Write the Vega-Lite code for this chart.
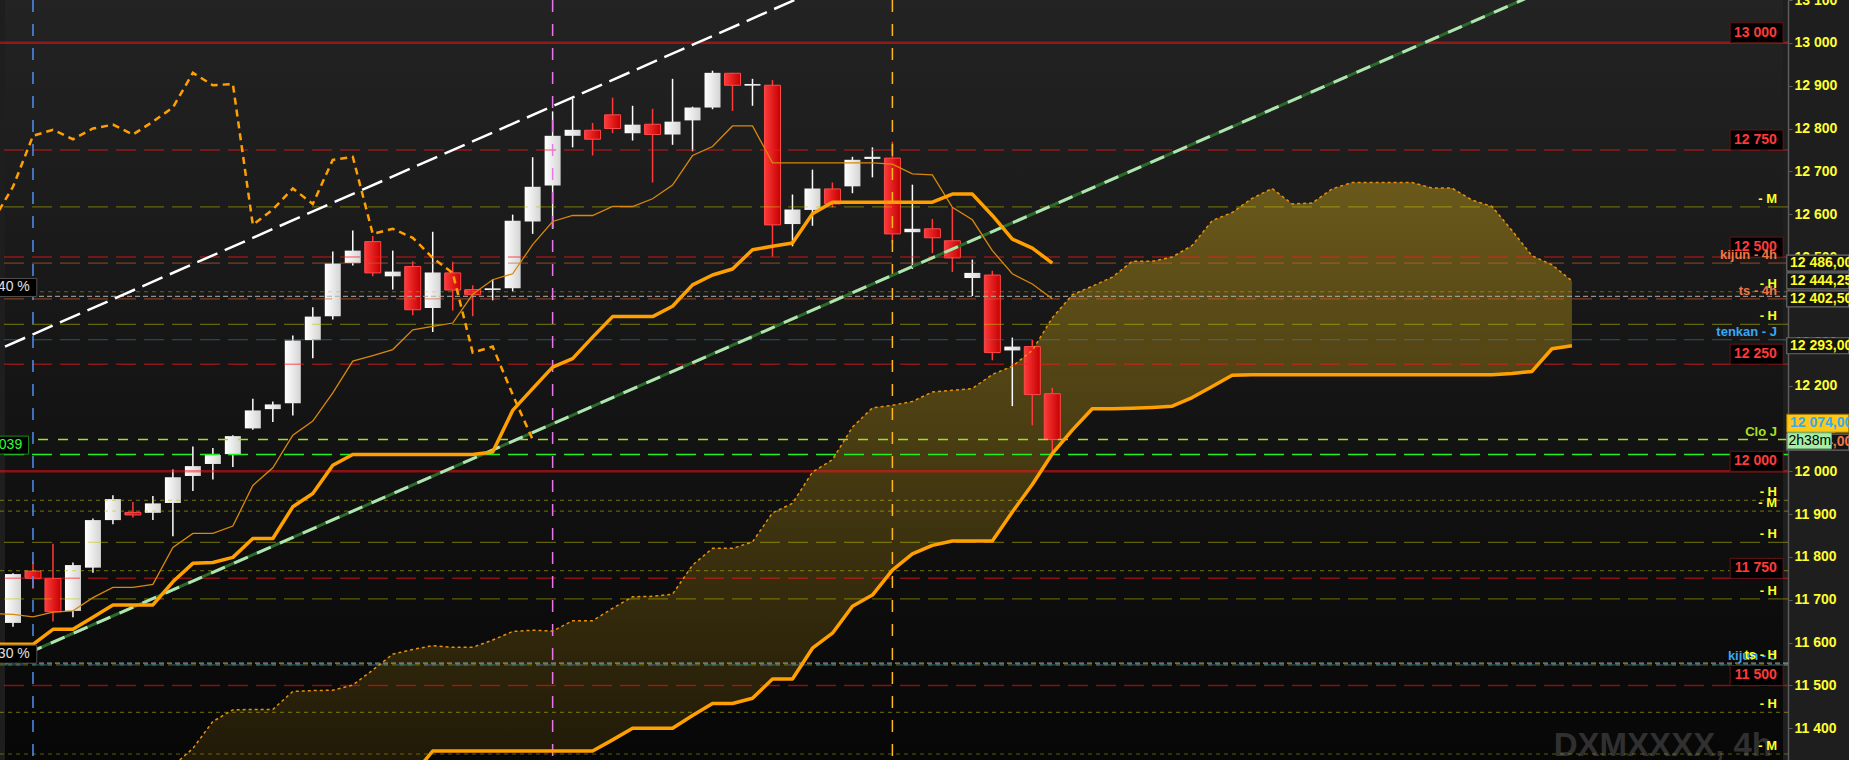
{
  "$schema": "https://vega.github.io/schema/vega-lite/v6.json",
  "width": 1788,
  "height": 760,
  "autosize": {"type": "none"},
  "padding": {"left": 0, "top": 0, "right": 61, "bottom": 0},
  "background": "#1e1e1e",
  "config": {
    "view": {"stroke": null},
    "locale": {"number": {"decimal": ",", "thousands": " ", "grouping": [3], "currency": ["", ""]}},
    "text": {"font": "Liberation Sans"}
  },
  "datasets": {
    "candles": [
      {"i":-1,"t":11668,"k":11596},
      {"i":0,"o":11646,"h":11762,"l":11637,"c":11760,"t":11666,"k":11596},
      {"i":1,"o":11767,"h":11789,"l":11726,"c":11750,"t":11660,"k":11596},
      {"i":2,"o":11750,"h":11831,"l":11649,"c":11672,"t":11671,"k":11631},
      {"i":3,"o":11674,"h":11787,"l":11659,"c":11781,"t":11674,"k":11631},
      {"i":4,"o":11775,"h":11890,"l":11763,"c":11886,"t":11705,"k":11659},
      {"i":5,"o":11886,"h":11944,"l":11876,"c":11935,"t":11729,"k":11688},
      {"i":6,"o":11904,"h":11928,"l":11892,"c":11898,"t":11729,"k":11688},
      {"i":7,"o":11903,"h":11942,"l":11886,"c":11925,"t":11736,"k":11688},
      {"i":8,"o":11926,"h":12004,"l":11848,"c":11986,"t":11822,"k":11742},
      {"i":9,"o":11989,"h":12058,"l":11954,"c":12012,"t":11855,"k":11785},
      {"i":10,"o":12017,"h":12054,"l":11981,"c":12038,"t":11855,"k":11787},
      {"i":11,"o":12040,"h":12084,"l":12010,"c":12082,"t":11872,"k":11799},
      {"i":12,"o":12100,"h":12169,"l":12097,"c":12142,"t":11967,"k":11843},
      {"i":13,"o":12145,"h":12163,"l":12115,"c":12156,"t":12008,"k":11843},
      {"i":14,"o":12159,"h":12317,"l":12130,"c":12305,"t":12084,"k":11917},
      {"i":15,"o":12306,"h":12383,"l":12264,"c":12361,"t":12117,"k":11948},
      {"i":16,"o":12362,"h":12513,"l":12354,"c":12485,"t":12183,"k":12014},
      {"i":17,"o":12486,"h":12562,"l":12480,"c":12515,"t":12257,"k":12039},
      {"i":18,"o":12536,"h":12549,"l":12455,"c":12463,"t":12270,"k":12039},
      {"i":19,"o":12455,"h":12515,"l":12424,"c":12466,"t":12284,"k":12039},
      {"i":20,"o":12478,"h":12490,"l":12364,"c":12377,"t":12330,"k":12039},
      {"i":21,"o":12381,"h":12559,"l":12325,"c":12464,"t":12338,"k":12039},
      {"i":22,"o":12463,"h":12489,"l":12375,"c":12423,"t":12346,"k":12039},
      {"i":23,"o":12424,"h":12434,"l":12362,"c":12412,"t":12413,"k":12039},
      {"i":24,"o":12423,"h":12448,"l":12399,"c":12427,"t":12447,"k":12045},
      {"i":25,"o":12427,"h":12599,"l":12420,"c":12585,"t":12461,"k":12142},
      {"i":26,"o":12583,"h":12733,"l":12554,"c":12664,"t":12529,"k":12193},
      {"i":27,"o":12667,"h":12840,"l":12566,"c":12783,"t":12583,"k":12243},
      {"i":28,"o":12783,"h":12869,"l":12756,"c":12797,"t":12597,"k":12263},
      {"i":29,"o":12796,"h":12813,"l":12737,"c":12775,"t":12597,"k":12313},
      {"i":30,"o":12832,"h":12872,"l":12789,"c":12800,"t":12618,"k":12361},
      {"i":31,"o":12789,"h":12853,"l":12772,"c":12809,"t":12618,"k":12361},
      {"i":32,"o":12810,"h":12846,"l":12674,"c":12786,"t":12636,"k":12361},
      {"i":33,"o":12786,"h":12916,"l":12762,"c":12816,"t":12668,"k":12385},
      {"i":34,"o":12819,"h":12851,"l":12747,"c":12849,"t":12737,"k":12435},
      {"i":35,"o":12849,"h":12935,"l":12845,"c":12930,"t":12758,"k":12458},
      {"i":36,"o":12929,"h":12930,"l":12841,"c":12901,"t":12806,"k":12472},
      {"i":37,"o":12900,"h":12916,"l":12853,"c":12904,"t":12806,"k":12517},
      {"i":38,"o":12901,"h":12913,"l":12501,"c":12575,"t":12720,"k":12525},
      {"i":39,"o":12577,"h":12646,"l":12525,"c":12611,"t":12720,"k":12533},
      {"i":40,"o":12610,"h":12704,"l":12573,"c":12660,"t":12720,"k":12601},
      {"i":41,"o":12659,"h":12674,"l":12616,"c":12624,"t":12720,"k":12628},
      {"i":42,"o":12665,"h":12734,"l":12649,"c":12727,"t":12720,"k":12628},
      {"i":43,"o":12729,"h":12756,"l":12686,"c":12734,"t":12720,"k":12628},
      {"i":44,"o":12731,"h":12769,"l":12532,"c":12554,"t":12717,"k":12628},
      {"i":45,"o":12558,"h":12669,"l":12472,"c":12566,"t":12694,"k":12628},
      {"i":46,"o":12566,"h":12589,"l":12509,"c":12545,"t":12692,"k":12628},
      {"i":47,"o":12538,"h":12616,"l":12465,"c":12498,"t":12616,"k":12647},
      {"i":48,"o":12451,"h":12494,"l":12409,"c":12463,"t":12587,"k":12647},
      {"i":49,"o":12458,"h":12468,"l":12259,"c":12277,"t":12515,"k":12597},
      {"i":50,"o":12282,"h":12312,"l":12152,"c":12291,"t":12461,"k":12542},
      {"i":51,"o":12291,"h":12307,"l":12107,"c":12179,"t":12437,"k":12521},
      {"i":52,"o":12181,"h":12195,"l":12045,"c":12074,"t":12402.5,"k":12486}
    ],
    "chikou": [
      {"i":-1,"v":12585},{"i":0,"v":12664},{"i":1,"v":12783},{"i":2,"v":12797},{"i":3,"v":12775},
      {"i":4,"v":12800},{"i":5,"v":12809},{"i":6,"v":12786},{"i":7,"v":12816},{"i":8,"v":12849},
      {"i":9,"v":12930},{"i":10,"v":12901},{"i":11,"v":12904},{"i":12,"v":12575},{"i":13,"v":12611},
      {"i":14,"v":12660},{"i":15,"v":12624},{"i":16,"v":12727},{"i":17,"v":12734},{"i":18,"v":12554},
      {"i":19,"v":12566},{"i":20,"v":12545},{"i":21,"v":12498},{"i":22,"v":12463},{"i":23,"v":12277},
      {"i":24,"v":12291},{"i":25,"v":12179},{"i":26,"v":12074}
    ],
    "cloud": [
      {"i":7,"a":11270,"b":11250},{"i":8,"a":11312,"b":11250},{"i":9,"a":11353,"b":11250},
      {"i":10,"a":11416,"b":11250},{"i":11,"a":11443,"b":11250},{"i":12,"a":11444,"b":11250},
      {"i":13,"a":11444,"b":11250},{"i":14,"a":11486,"b":11250},{"i":15,"a":11488,"b":11250},
      {"i":16,"a":11489,"b":11250},{"i":17,"a":11501,"b":11250},{"i":18,"a":11536,"b":11250},
      {"i":19,"a":11573,"b":11250},{"i":20,"a":11584,"b":11290},{"i":21,"a":11593,"b":11347},
      {"i":22,"a":11589,"b":11347},{"i":23,"a":11589,"b":11347},{"i":24,"a":11606,"b":11347},
      {"i":25,"a":11626,"b":11347},{"i":26,"a":11629,"b":11347},{"i":27,"a":11627,"b":11347},
      {"i":28,"a":11651,"b":11347},{"i":29,"a":11651,"b":11347},{"i":30,"a":11680,"b":11373},
      {"i":31,"a":11707,"b":11400},{"i":32,"a":11708,"b":11400},{"i":33,"a":11713,"b":11400},
      {"i":34,"a":11781,"b":11430},{"i":35,"a":11820,"b":11458},{"i":36,"a":11820,"b":11458},
      {"i":37,"a":11835,"b":11470},{"i":38,"a":11903,"b":11515},{"i":39,"a":11925,"b":11515},
      {"i":40,"a":11998,"b":11587},{"i":41,"a":12027,"b":11622},{"i":42,"a":12103,"b":11685},
      {"i":43,"a":12148,"b":11711},{"i":44,"a":12154,"b":11769},{"i":45,"a":12163,"b":11807},
      {"i":46,"a":12185,"b":11827},{"i":47,"a":12189,"b":11837},{"i":48,"a":12193,"b":11837},
      {"i":49,"a":12226,"b":11837},{"i":50,"a":12245,"b":11905},{"i":51,"a":12282,"b":11969},
      {"i":52,"a":12358,"b":12041},{"i":53,"a":12412,"b":12096},{"i":54,"a":12432,"b":12146},
      {"i":55,"a":12453,"b":12146},{"i":56,"a":12490,"b":12147},{"i":57,"a":12490,"b":12149},
      {"i":58,"a":12500,"b":12152},{"i":59,"a":12527,"b":12172},{"i":60,"a":12585,"b":12198},
      {"i":61,"a":12604,"b":12224},{"i":62,"a":12637,"b":12225},{"i":63,"a":12660,"b":12225},
      {"i":64,"a":12624,"b":12225},{"i":65,"a":12626,"b":12225},{"i":66,"a":12659,"b":12225},
      {"i":67,"a":12674,"b":12225},{"i":68,"a":12674,"b":12225},{"i":69,"a":12674,"b":12225},
      {"i":70,"a":12674,"b":12225},{"i":71,"a":12661,"b":12225},{"i":72,"a":12661,"b":12225},
      {"i":73,"a":12633,"b":12225},{"i":74,"a":12618,"b":12225},{"i":75,"a":12562,"b":12228},
      {"i":76,"a":12503,"b":12233},{"i":77,"a":12482,"b":12286},{"i":78,"a":12444.25,"b":12293}
    ],
    "trend": [
      {"ln":"w","i":-0.4,"v":12291},{"ln":"w","i":39.5,"v":13108},
      {"ln":"g","i":-0.4,"v":11552},{"ln":"g","i":76,"v":13110}
    ],
    "hl": [
      {"k":"rs","v":13000},{"k":"rs","v":12000},
      {"k":"rd","v":12750},{"k":"rd","v":12500},{"k":"rd","v":12250},{"k":"rd","v":11750},{"k":"rd","v":11500},
      {"k":"ol","v":12617},{"k":"ol","v":12343},{"k":"ol","v":11834},{"k":"ol","v":11702},
      {"k":"of","v":12419},{"k":"of","v":11932},{"k":"of","v":11907},{"k":"of","v":11768},{"k":"of","v":11548},{"k":"of","v":11437},{"k":"of","v":11340},
      {"k":"br","v":12486},{"k":"br","v":12402.5},
      {"k":"gr","v":12408},{"k":"gr","v":11552},
      {"k":"bl","v":12307},{"k":"bl","v":11548},
      {"k":"li","v":12074},
      {"k":"gn","v":12039}
    ],
    "vl": [{"k":"b","i":1},{"k":"p","i":27},{"k":"y","i":44}],
    "rl": [
      {"v":12617,"t":"- M","k":"lv"},
      {"v":12486,"t":"kijun - 4h","k":"kj"},
      {"v":12419,"t":"- H","k":"lv"},
      {"v":12402.5,"t":"ts - 4h","k":"kj"},
      {"v":12343,"t":"- H","k":"lv"},
      {"v":12307,"t":"tenkan - J","k":"tk"},
      {"v":12074,"t":"Clo J","k":"clo"},
      {"v":11932,"t":"- H","k":"lv"},
      {"v":11907,"t":"- M","k":"lv"},
      {"v":11834,"t":"- H","k":"lv"},
      {"v":11768,"t":"- M","k":"hid"},
      {"v":11702,"t":"- H","k":"lv"},
      {"v":11549,"t":"kijun - J","k":"tk"},
      {"v":11552,"t":"ts - H","k":"lv"},
      {"v":11437,"t":"- H","k":"lv"},
      {"v":11340,"t":"- M","k":"lv"}
    ],
    "rb": [{"v":13000},{"v":12750},{"v":12500},{"v":12250},{"v":12000},{"v":11750},{"v":11500}],
    "lb": [
      {"v":12429,"t":"40 %","k":"w"},
      {"v":11573,"t":"30 %","k":"w"},
      {"v":12061,"t":"12 039","k":"g"}
    ],
    "tags": [
      {"v":12486,"t":"12 486,00","k":"o"},
      {"v":12444.25,"t":"12 444,25","k":"o"},
      {"v":12402.5,"t":"12 402,50","k":"o"},
      {"v":12293,"t":"12 293,00","k":"o"},
      {"v":12068,"t":"12 074,00","k":"d"},
      {"v":12112,"t":"12 074,00","k":"y"}
    ],
    "timer": [{"v":12071,"t":"2h38m"}]
  },
  "layer": [
    {
      "data": {"values": [{"n": 1}]},
      "mark": {"type": "rect", "fill": {"gradient": "linear", "x1": 0, "y1": 0, "x2": 0, "y2": 1, "stops": [{"offset": 0, "color": "#232323"}, {"offset": 1, "color": "#070707"}]}},
      "encoding": {
        "x": {"datum": -0.4, "type": "quantitative", "scale": {"domain": [-0.4, 88.56], "nice": false, "zero": false}, "axis": null},
        "x2": {"datum": 88.56},
        "y": {"datum": 13100, "type": "quantitative", "scale": {"domain": [11326, 13100], "nice": false, "zero": false},
          "axis": {"orient": "right", "title": null, "grid": false,
            "values": [11400, 11500, 11600, 11700, 11800, 11900, 12000, 12100, 12200, 12300, 12400, 12500, 12600, 12700, 12800, 12900, 13000, 13100],
            "format": ",d", "labelColor": "#ffff33", "labelFont": "Liberation Sans", "labelFontSize": 14, "labelFontWeight": "bold",
            "labelPadding": 2, "labelFlush": false, "labelOverlap": false, "labelBound": false,
            "domainColor": "#5c5c5c", "domainWidth": 1.5, "tickColor": "#5c5c5c", "tickSize": 4, "zindex": 0}},
        "y2": {"datum": 11326}
      }
    },
    {
      "data": {"values": [{"t": "DXMXXXX, 4h"}]},
      "mark": {"type": "text", "align": "right", "baseline": "alphabetic", "dy": -4, "fontSize": 33, "fontWeight": "bold", "fill": "#303030"},
      "encoding": {
        "x": {"datum": 88.01, "type": "quantitative", "scale": {"domain": [-0.4, 88.56], "nice": false, "zero": false}},
        "y": {"datum": 11326, "type": "quantitative", "scale": {"domain": [11326, 13100], "nice": false, "zero": false}},
        "text": {"field": "t"}
      }
    },
    {
      "data": {"name": "cloud"},
      "mark": {"type": "area", "clip": true, "fill": {"gradient": "linear", "x1": 0, "y1": 0, "x2": 0, "y2": 1, "stops": [{"offset": 0, "color": "#6a591b"}, {"offset": 1, "color": "#1c1606"}]}},
      "encoding": {
        "x": {"field": "i", "type": "quantitative", "scale": {"domain": [-0.4, 88.56], "nice": false, "zero": false}},
        "y": {"field": "a", "type": "quantitative", "scale": {"domain": [11326, 13100], "nice": false, "zero": false}},
        "y2": {"field": "b"}
      }
    },
    {
      "data": {"name": "candles"},
      "transform": [{"filter": "datum.c >= datum.o"}],
      "mark": {"type": "rule", "stroke": "#ffffff", "strokeWidth": 1.5},
      "encoding": {
        "x": {"field": "i", "type": "quantitative", "scale": {"domain": [-0.4, 88.56], "nice": false, "zero": false}},
        "y": {"field": "l", "type": "quantitative", "scale": {"domain": [11326, 13100], "nice": false, "zero": false}},
        "y2": {"field": "h"}
      }
    },
    {
      "data": {"name": "candles"},
      "transform": [{"filter": "datum.c < datum.o"}],
      "mark": {"type": "rule", "stroke": "#ff3a3a", "strokeWidth": 1.5},
      "encoding": {
        "x": {"field": "i", "type": "quantitative", "scale": {"domain": [-0.4, 88.56], "nice": false, "zero": false}},
        "y": {"field": "l", "type": "quantitative", "scale": {"domain": [11326, 13100], "nice": false, "zero": false}},
        "y2": {"field": "h"}
      }
    },
    {
      "data": {"name": "candles"},
      "transform": [{"filter": "datum.c >= datum.o"}],
      "mark": {"type": "bar", "width": 16, "fill": {"gradient": "linear", "x1": 0, "y1": 0, "x2": 1, "y2": 0, "stops": [{"offset": 0, "color": "#ffffff"}, {"offset": 1, "color": "#d4d4d4"}]}},
      "encoding": {
        "x": {"field": "i", "type": "quantitative", "scale": {"domain": [-0.4, 88.56], "nice": false, "zero": false}},
        "y": {"field": "o", "type": "quantitative", "scale": {"domain": [11326, 13100], "nice": false, "zero": false}},
        "y2": {"field": "c"}
      }
    },
    {
      "data": {"name": "candles"},
      "transform": [{"filter": "datum.c < datum.o"}],
      "mark": {"type": "bar", "width": 16, "stroke": "#ff4a4a", "strokeWidth": 1, "fill": {"gradient": "linear", "x1": 0, "y1": 0, "x2": 1, "y2": 0, "stops": [{"offset": 0, "color": "#ff3a3a"}, {"offset": 1, "color": "#c40000"}]}},
      "encoding": {
        "x": {"field": "i", "type": "quantitative", "scale": {"domain": [-0.4, 88.56], "nice": false, "zero": false}},
        "y": {"field": "o", "type": "quantitative", "scale": {"domain": [11326, 13100], "nice": false, "zero": false}},
        "y2": {"field": "c"}
      }
    },
    {
      "data": {"name": "hl"},
      "transform": [{"filter": "datum.k == 'rs'"}],
      "mark": {"type": "rule", "stroke": "#ff1414", "strokeOpacity": 0.5, "strokeWidth": 2.5},
      "encoding": {"y": {"field": "v", "type": "quantitative", "scale": {"domain": [11326, 13100], "nice": false, "zero": false}}}
    },
    {
      "data": {"name": "hl"},
      "transform": [{"filter": "datum.k == 'rd'"}],
      "mark": {"type": "rule", "stroke": "#ff1a1a", "strokeOpacity": 0.5, "strokeWidth": 1.5, "strokeDash": [20, 8]},
      "encoding": {"y": {"field": "v", "type": "quantitative", "scale": {"domain": [11326, 13100], "nice": false, "zero": false}}}
    },
    {
      "data": {"name": "hl"},
      "transform": [{"filter": "datum.k == 'ol'"}],
      "mark": {"type": "rule", "stroke": "#c4c400", "strokeOpacity": 0.45, "strokeWidth": 1.2, "strokeDash": [20, 8]},
      "encoding": {"y": {"field": "v", "type": "quantitative", "scale": {"domain": [11326, 13100], "nice": false, "zero": false}}}
    },
    {
      "data": {"name": "hl"},
      "transform": [{"filter": "datum.k == 'of'"}],
      "mark": {"type": "rule", "stroke": "#c4c400", "strokeOpacity": 0.45, "strokeWidth": 1.2, "strokeDash": [4, 4]},
      "encoding": {"y": {"field": "v", "type": "quantitative", "scale": {"domain": [11326, 13100], "nice": false, "zero": false}}}
    },
    {
      "data": {"name": "hl"},
      "transform": [{"filter": "datum.k == 'br'"}],
      "mark": {"type": "rule", "stroke": "#d06030", "strokeOpacity": 0.55, "strokeWidth": 1.2, "strokeDash": [20, 8]},
      "encoding": {"y": {"field": "v", "type": "quantitative", "scale": {"domain": [11326, 13100], "nice": false, "zero": false}}}
    },
    {
      "data": {"name": "hl"},
      "transform": [{"filter": "datum.k == 'gr'"}],
      "mark": {"type": "rule", "stroke": "#b0b0b0", "strokeOpacity": 0.8, "strokeWidth": 1.2, "strokeDash": [5, 3]},
      "encoding": {"y": {"field": "v", "type": "quantitative", "scale": {"domain": [11326, 13100], "nice": false, "zero": false}}}
    },
    {
      "data": {"name": "hl"},
      "transform": [{"filter": "datum.k == 'bl'"}],
      "mark": {"type": "rule", "stroke": "#3c8ab0", "strokeOpacity": 0.55, "strokeWidth": 1.2, "strokeDash": [20, 8]},
      "encoding": {"y": {"field": "v", "type": "quantitative", "scale": {"domain": [11326, 13100], "nice": false, "zero": false}}}
    },
    {
      "data": {"name": "hl"},
      "transform": [{"filter": "datum.k == 'li'"}],
      "mark": {"type": "rule", "stroke": "#a4e020", "strokeWidth": 1.5, "strokeDash": [10, 10]},
      "encoding": {"y": {"field": "v", "type": "quantitative", "scale": {"domain": [11326, 13100], "nice": false, "zero": false}}}
    },
    {
      "data": {"name": "hl"},
      "transform": [{"filter": "datum.k == 'gn'"}],
      "mark": {"type": "rule", "stroke": "#22f022", "strokeWidth": 1.5, "strokeDash": [20, 8]},
      "encoding": {"y": {"field": "v", "type": "quantitative", "scale": {"domain": [11326, 13100], "nice": false, "zero": false}}}
    },
    {
      "data": {"name": "vl"},
      "transform": [{"filter": "datum.k == 'b'"}],
      "mark": {"type": "rule", "stroke": "#4f8fef", "strokeWidth": 1.5, "strokeDash": [12, 12]},
      "encoding": {"x": {"field": "i", "type": "quantitative", "scale": {"domain": [-0.4, 88.56], "nice": false, "zero": false}}}
    },
    {
      "data": {"name": "vl"},
      "transform": [{"filter": "datum.k == 'p'"}],
      "mark": {"type": "rule", "stroke": "#e878e8", "strokeWidth": 1.5, "strokeDash": [12, 12]},
      "encoding": {"x": {"field": "i", "type": "quantitative", "scale": {"domain": [-0.4, 88.56], "nice": false, "zero": false}}}
    },
    {
      "data": {"name": "vl"},
      "transform": [{"filter": "datum.k == 'y'"}],
      "mark": {"type": "rule", "stroke": "#ffb81c", "strokeWidth": 1.5, "strokeDash": [12, 12]},
      "encoding": {"x": {"field": "i", "type": "quantitative", "scale": {"domain": [-0.4, 88.56], "nice": false, "zero": false}}}
    },
    {
      "data": {"name": "trend"},
      "transform": [{"filter": "datum.ln == 'g'"}],
      "mark": {"type": "line", "clip": true, "stroke": "#2c6a2c", "strokeWidth": 3},
      "encoding": {
        "x": {"field": "i", "type": "quantitative", "scale": {"domain": [-0.4, 88.56], "nice": false, "zero": false}},
        "y": {"field": "v", "type": "quantitative", "scale": {"domain": [11326, 13100], "nice": false, "zero": false}}
      }
    },
    {
      "data": {"name": "trend"},
      "transform": [{"filter": "datum.ln == 'g'"}],
      "mark": {"type": "line", "clip": true, "stroke": "#b0e4b0", "strokeWidth": 3, "strokeDash": [15, 10]},
      "encoding": {
        "x": {"field": "i", "type": "quantitative", "scale": {"domain": [-0.4, 88.56], "nice": false, "zero": false}},
        "y": {"field": "v", "type": "quantitative", "scale": {"domain": [11326, 13100], "nice": false, "zero": false}}
      }
    },
    {
      "data": {"name": "trend"},
      "transform": [{"filter": "datum.ln == 'w'"}],
      "mark": {"type": "line", "clip": true, "stroke": "#ffffff", "strokeWidth": 2.5, "strokeDash": [22, 8]},
      "encoding": {
        "x": {"field": "i", "type": "quantitative", "scale": {"domain": [-0.4, 88.56], "nice": false, "zero": false}},
        "y": {"field": "v", "type": "quantitative", "scale": {"domain": [11326, 13100], "nice": false, "zero": false}}
      }
    },
    {
      "data": {"name": "chikou"},
      "mark": {"type": "line", "clip": true, "stroke": "#ffa000", "strokeWidth": 2.5, "strokeDash": [7, 5]},
      "encoding": {
        "x": {"field": "i", "type": "quantitative", "scale": {"domain": [-0.4, 88.56], "nice": false, "zero": false}},
        "y": {"field": "v", "type": "quantitative", "scale": {"domain": [11326, 13100], "nice": false, "zero": false}}
      }
    },
    {
      "data": {"name": "cloud"},
      "mark": {"type": "line", "clip": true, "stroke": "#e8900a", "strokeWidth": 1.5, "strokeDash": [3, 3]},
      "encoding": {
        "x": {"field": "i", "type": "quantitative", "scale": {"domain": [-0.4, 88.56], "nice": false, "zero": false}},
        "y": {"field": "a", "type": "quantitative", "scale": {"domain": [11326, 13100], "nice": false, "zero": false}}
      }
    },
    {
      "data": {"name": "cloud"},
      "mark": {"type": "line", "clip": true, "stroke": "#ffa000", "strokeWidth": 3.5, "strokeJoin": "round"},
      "encoding": {
        "x": {"field": "i", "type": "quantitative", "scale": {"domain": [-0.4, 88.56], "nice": false, "zero": false}},
        "y": {"field": "b", "type": "quantitative", "scale": {"domain": [11326, 13100], "nice": false, "zero": false}}
      }
    },
    {
      "data": {"name": "candles"},
      "mark": {"type": "line", "clip": true, "stroke": "#d8880c", "strokeWidth": 1.3},
      "encoding": {
        "x": {"field": "i", "type": "quantitative", "scale": {"domain": [-0.4, 88.56], "nice": false, "zero": false}},
        "y": {"field": "t", "type": "quantitative", "scale": {"domain": [11326, 13100], "nice": false, "zero": false}}
      }
    },
    {
      "data": {"name": "candles"},
      "mark": {"type": "line", "clip": true, "stroke": "#ffa000", "strokeWidth": 3.5, "strokeJoin": "round"},
      "encoding": {
        "x": {"field": "i", "type": "quantitative", "scale": {"domain": [-0.4, 88.56], "nice": false, "zero": false}},
        "y": {"field": "k", "type": "quantitative", "scale": {"domain": [11326, 13100], "nice": false, "zero": false}}
      }
    },
    {
      "data": {"name": "rl"},
      "transform": [{"filter": "datum.k == 'hid'"}],
      "mark": {"type": "text", "align": "right", "baseline": "alphabetic", "dy": -4, "fontSize": 13, "fontWeight": "bold", "fill": "#ffff22"},
      "encoding": {
        "x": {"datum": 88.26, "type": "quantitative", "scale": {"domain": [-0.4, 88.56], "nice": false, "zero": false}},
        "y": {"field": "v", "type": "quantitative", "scale": {"domain": [11326, 13100], "nice": false, "zero": false}},
        "text": {"field": "t"}
      }
    },
    {
      "data": {"name": "rb"},
      "mark": {"type": "rect", "width": 53, "height": 20, "yOffset": -10, "fill": "#000000", "stroke": "#641616", "strokeWidth": 1},
      "encoding": {
        "x": {"datum": 87.24, "type": "quantitative", "scale": {"domain": [-0.4, 88.56], "nice": false, "zero": false}},
        "y": {"field": "v", "type": "quantitative", "scale": {"domain": [11326, 13100], "nice": false, "zero": false}}
      }
    },
    {
      "data": {"name": "rb"},
      "mark": {"type": "text", "align": "right", "baseline": "middle", "dy": -10, "fontSize": 14, "fontWeight": "bold", "fill": "#ff3a3a"},
      "encoding": {
        "x": {"datum": 88.25, "type": "quantitative", "scale": {"domain": [-0.4, 88.56], "nice": false, "zero": false}},
        "y": {"field": "v", "type": "quantitative", "scale": {"domain": [11326, 13100], "nice": false, "zero": false}},
        "text": {"field": "v", "format": ",d"}
      }
    },
    {
      "data": {"name": "rl"},
      "transform": [{"filter": "datum.k != 'hid'"}],
      "mark": {"type": "text", "align": "right", "baseline": "alphabetic", "dy": -4, "fontSize": 13, "fontWeight": "bold"},
      "encoding": {
        "x": {"datum": 88.26, "type": "quantitative", "scale": {"domain": [-0.4, 88.56], "nice": false, "zero": false}},
        "y": {"field": "v", "type": "quantitative", "scale": {"domain": [11326, 13100], "nice": false, "zero": false}},
        "text": {"field": "t"},
        "color": {"field": "k", "type": "nominal", "legend": null,
          "scale": {"domain": ["lv", "kj", "tk", "clo"], "range": ["#ffff22", "#f07848", "#38a8f0", "#a8e020"]}}
      }
    },
    {
      "data": {"name": "lb"},
      "transform": [{"filter": "datum.k == 'w'"}],
      "mark": {"type": "rect", "width": 42, "height": 18, "fill": "#000000", "stroke": "#505050", "strokeWidth": 1},
      "encoding": {
        "x": {"datum": 0.14, "type": "quantitative", "scale": {"domain": [-0.4, 88.56], "nice": false, "zero": false}},
        "y": {"field": "v", "type": "quantitative", "scale": {"domain": [11326, 13100], "nice": false, "zero": false}}
      }
    },
    {
      "data": {"name": "lb"},
      "transform": [{"filter": "datum.k == 'g'"}],
      "mark": {"type": "rect", "width": 44, "height": 18, "fill": "#000000", "stroke": "#1e8a1e", "strokeWidth": 1},
      "encoding": {
        "x": {"datum": -0.32, "type": "quantitative", "scale": {"domain": [-0.4, 88.56], "nice": false, "zero": false}},
        "y": {"field": "v", "type": "quantitative", "scale": {"domain": [11326, 13100], "nice": false, "zero": false}}
      }
    },
    {
      "data": {"name": "lb"},
      "transform": [{"filter": "datum.k == 'w'"}],
      "mark": {"type": "text", "align": "right", "baseline": "middle", "fontSize": 14, "fill": "#e0e0e0"},
      "encoding": {
        "x": {"datum": 0.84, "type": "quantitative", "scale": {"domain": [-0.4, 88.56], "nice": false, "zero": false}},
        "y": {"field": "v", "type": "quantitative", "scale": {"domain": [11326, 13100], "nice": false, "zero": false}},
        "text": {"field": "t"}
      }
    },
    {
      "data": {"name": "lb"},
      "transform": [{"filter": "datum.k == 'g'"}],
      "mark": {"type": "text", "align": "right", "baseline": "middle", "fontSize": 14, "fill": "#33ff33"},
      "encoding": {
        "x": {"datum": 0.46, "type": "quantitative", "scale": {"domain": [-0.4, 88.56], "nice": false, "zero": false}},
        "y": {"field": "v", "type": "quantitative", "scale": {"domain": [11326, 13100], "nice": false, "zero": false}},
        "text": {"field": "t"}
      }
    },
    {
      "data": {"name": "tags"},
      "transform": [{"filter": "datum.k != 'y'"}],
      "mark": {"type": "rect", "width": 62, "height": 16, "fill": "#141414", "stroke": "#6a6a6a", "strokeWidth": 1.2},
      "encoding": {
        "x": {"datum": 90.3, "type": "quantitative", "scale": {"domain": [-0.4, 88.56], "nice": false, "zero": false}},
        "y": {"field": "v", "type": "quantitative", "scale": {"domain": [11326, 13100], "nice": false, "zero": false}}
      }
    },
    {
      "data": {"name": "tags"},
      "transform": [{"filter": "datum.k == 'y'"}],
      "mark": {"type": "rect", "width": 62, "height": 18, "fill": "#ffc814", "stroke": "#9a7a00", "strokeWidth": 1},
      "encoding": {
        "x": {"datum": 90.3, "type": "quantitative", "scale": {"domain": [-0.4, 88.56], "nice": false, "zero": false}},
        "y": {"field": "v", "type": "quantitative", "scale": {"domain": [11326, 13100], "nice": false, "zero": false}}
      }
    },
    {
      "data": {"name": "tags"},
      "mark": {"type": "text", "align": "left", "baseline": "middle", "fontSize": 14, "fontWeight": "bold"},
      "encoding": {
        "x": {"datum": 88.91, "type": "quantitative", "scale": {"domain": [-0.4, 88.56], "nice": false, "zero": false}},
        "y": {"field": "v", "type": "quantitative", "scale": {"domain": [11326, 13100], "nice": false, "zero": false}},
        "text": {"field": "t"},
        "color": {"field": "k", "type": "nominal", "legend": null,
          "scale": {"domain": ["o", "d", "y"], "range": ["#ff9c00", "#ff9c00", "#000000"]}}
      }
    },
    {
      "data": {"name": "timer"},
      "mark": {"type": "rect", "width": 44, "height": 16, "fill": "#a6eea6", "stroke": "#70b070", "strokeWidth": 1},
      "encoding": {
        "x": {"datum": 89.88, "type": "quantitative", "scale": {"domain": [-0.4, 88.56], "nice": false, "zero": false}},
        "y": {"field": "v", "type": "quantitative", "scale": {"domain": [11326, 13100], "nice": false, "zero": false}}
      }
    },
    {
      "data": {"name": "timer"},
      "mark": {"type": "text", "align": "left", "baseline": "middle", "fontSize": 14, "fill": "#000000"},
      "encoding": {
        "x": {"datum": 88.83, "type": "quantitative", "scale": {"domain": [-0.4, 88.56], "nice": false, "zero": false}},
        "y": {"field": "v", "type": "quantitative", "scale": {"domain": [11326, 13100], "nice": false, "zero": false}},
        "text": {"field": "t"}
      }
    }
  ]
}
